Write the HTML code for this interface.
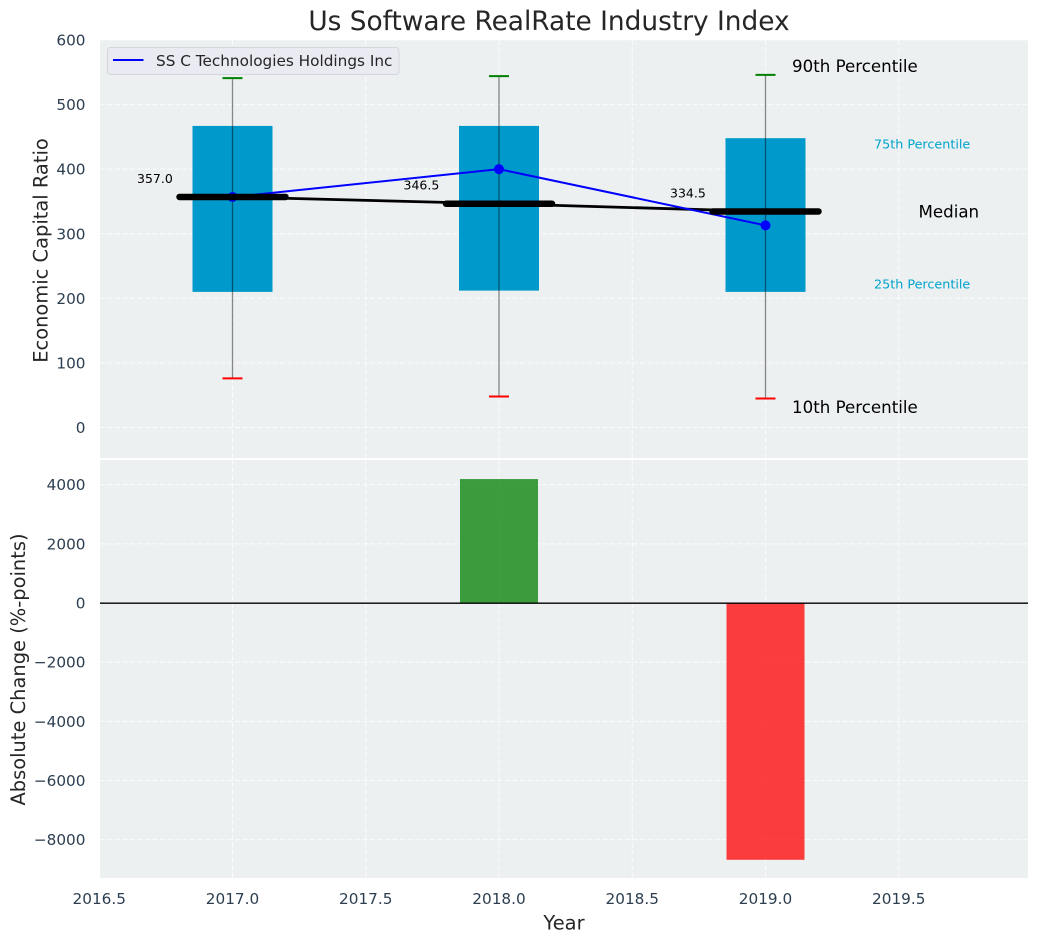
<!DOCTYPE html>
<html>
<head>
<meta charset="utf-8">
<title>Us Software RealRate Industry Index</title>
<style>
html,body{margin:0;padding:0;background:#fff;}
svg{display:block;font-family:"DejaVu Sans","Liberation Sans",sans-serif;}
</style>
</head>
<body>
<svg id="chart" width="1039" height="942" viewBox="0 0 1039 942" xmlns="http://www.w3.org/2000/svg"></svg>
<script>
const years = [2017, 2018, 2019];
const p10 = [76, 48, 45];
const p25 = [210, 212, 210];
const median = [357, 346.5, 334.5];
const p75 = [467, 467, 448];
const p90 = [541, 544, 546];
const company = [357, 400, 313];
const change = [0, 4190, -8680];
const xTicks = [2016.5, 2017, 2017.5, 2018, 2018.5, 2019, 2019.5];
const topTicks = [0, 100, 200, 300, 400, 500, 600];
const bottomTicks = [-8000, -6000, -4000, -2000, 0, 2000, 4000];
const companyName = 'SS C Technologies Holdings Inc';

const svg = document.getElementById('chart');
const NS = 'http://www.w3.org/2000/svg';
function X(v){ return 232.5 + (v - 2017) * 266.5; }
function YT(v){ return 427.5 - v * 0.6458; }
function YB(v){ return 603 - v * 0.029583; }
function add(tag, attrs, name, text){
  const el = document.createElementNS(NS, tag);
  for (const k in attrs) el.setAttribute(k, attrs[k]);
  
  
  if (text !== undefined) el.textContent = text;
  svg.appendChild(el);
  return el;
}
const L = 100, R = 1028, T1 = 40, B1 = 458, T2 = 460, B2 = 878;
const gridAttr = {stroke:'#ffffff', 'stroke-width':1, 'stroke-dasharray':'5 2.5', opacity:0.8};
function grid(x1,y1,x2,y2,name){ add('line', Object.assign({x1,y1,x2,y2}, gridAttr), name); }
function txt(x,y,s,size,fill,anchor,name,extra){
  return add('text', Object.assign({x,y,'font-size':size,fill,'text-anchor':anchor||'start','dominant-baseline':'central'}, extra||{}), name, s);
}

// panels
add('rect',{x:L,y:T1,width:R-L,height:B1-T1,fill:'#ecf0f1'},'top-panel-background');
add('rect',{x:L,y:T2,width:R-L,height:B2-T2,fill:'#ecf0f1'},'bottom-panel-background');

// grid + ticks
xTicks.forEach(t => {
  grid(X(t),T1,X(t),B1,'top-x-gridline');
  grid(X(t),T2,X(t),B2,'bottom-x-gridline');
  txt(X(t),899,t.toFixed(1),15.28,'#2c3e50','middle','x-tick-label');
});
topTicks.forEach(t => {
  grid(L,YT(t),R,YT(t),'top-y-gridline');
  txt(85.5,YT(t)+0.5,String(t),15.28,'#2c3e50','end','top-y-tick-label');
});
bottomTicks.forEach(t => {
  grid(L,YB(t),R,YB(t),'bottom-y-gridline');
  txt(85.5,YB(t)+0.5,String(t).replace('-','\u2212'),15.28,'#2c3e50','end','bottom-y-tick-label');
});

// top panel: IQR bars
years.forEach((y,i) => {
  add('rect',{x:X(y)-40,y:YT(p75[i]),width:80,height:YT(p25[i])-YT(p75[i]),fill:'#0099cc'},'iqr-bar-'+y);
});
// whiskers
years.forEach((y,i) => {
  add('line',{x1:X(y),y1:YT(p90[i]),x2:X(y),y2:YT(p10[i]),stroke:'#000000','stroke-width':1.3,opacity:0.45},'whisker-'+y);
  add('line',{x1:X(y)-10,y1:YT(p90[i]),x2:X(y)+10,y2:YT(p90[i]),stroke:'#008000','stroke-width':2},'p90-cap-'+y);
  add('line',{x1:X(y)-10,y1:YT(p10[i]),x2:X(y)+10,y2:YT(p10[i]),stroke:'#ff0000','stroke-width':2},'p10-cap-'+y);
});
// median connecting line
add('polyline',{points:years.map((y,i)=>X(y)+','+YT(median[i])).join(' '),fill:'none',stroke:'#000','stroke-width':2.8},'median-line');
// company series
add('polyline',{points:years.map((y,i)=>X(y)+','+YT(company[i])).join(' '),fill:'none',stroke:'#0000ff','stroke-width':2},'company-line');
years.forEach((y,i) => {
  add('circle',{cx:X(y),cy:YT(company[i]),r:5,fill:'#0000ff'},'company-point-'+y);
});
// median bars + values
years.forEach((y,i) => {
  add('line',{x1:X(y)-53,y1:YT(median[i]),x2:X(y)+53,y2:YT(median[i]),stroke:'#000','stroke-width':6.5,'stroke-linecap':'round'},'median-bar-'+y);
  txt(X(y)-95.5,YT(median[i])-18.5,median[i].toFixed(1),12.5,'#000','start','median-value-'+y);
});

// percentile annotations (2019 reference)
const lastX = X(years[2]);
txt(lastX+26.5,YT(p90[2])-8.5,'90th Percentile',16.67,'#000','start','p90-label');
txt(lastX+108.5,YT(p75[2])+7,'75th Percentile',12.75,'#00a3cc','start','p75-label');
txt(lastX+153,YT(median[2])+0.5,'Median',16.67,'#000','start','median-label');
txt(lastX+108.5,YT(p25[2])-7,'25th Percentile',12.75,'#00a3cc','start','p25-label');
txt(lastX+26.5,YT(p10[2])+9,'10th Percentile',16.67,'#000','start','p10-label');

// legend
add('rect',{x:107.5,y:47.5,width:291.5,height:27,rx:3,fill:'#eaeaf2',stroke:'#d5d5dc','stroke-width':1},'legend-box');
add('line',{x1:113,y1:60,x2:143.5,y2:60,stroke:'#0000ff','stroke-width':2},'legend-line');
txt(156,61,companyName,15.28,'#262626','start','legend-label');

// bottom panel: change bars
years.forEach((y,i) => {
  if (!change[i]) return;
  const v = change[i];
  add('rect',{x:X(y)-39,y:Math.min(YB(v),YB(0)),width:78,height:Math.abs(YB(v)-YB(0)),
    fill:v>0?'#008000':'#ff0000',opacity:0.75},'change-bar-'+y);
});
add('line',{x1:L,y1:YB(0)+0.2,x2:R,y2:YB(0)+0.2,stroke:'#000','stroke-width':1.4},'zero-line');

// titles
txt(549,22,'Us Software RealRate Industry Index',26.39,'#262626','middle','chart-title');
txt(564,923,'Year',19.44,'#262626','middle','x-axis-title');
txt(41,250.5,'Economic Capital Ratio',19.44,'#262626','middle','top-y-axis-title',{transform:'rotate(-90 41 250.5)'});
txt(18.5,669.5,'Absolute Change (%-points)',19.44,'#262626','middle','bottom-y-axis-title',{transform:'rotate(-90 18.5 669.5)'});
</script>
</body>
</html>
